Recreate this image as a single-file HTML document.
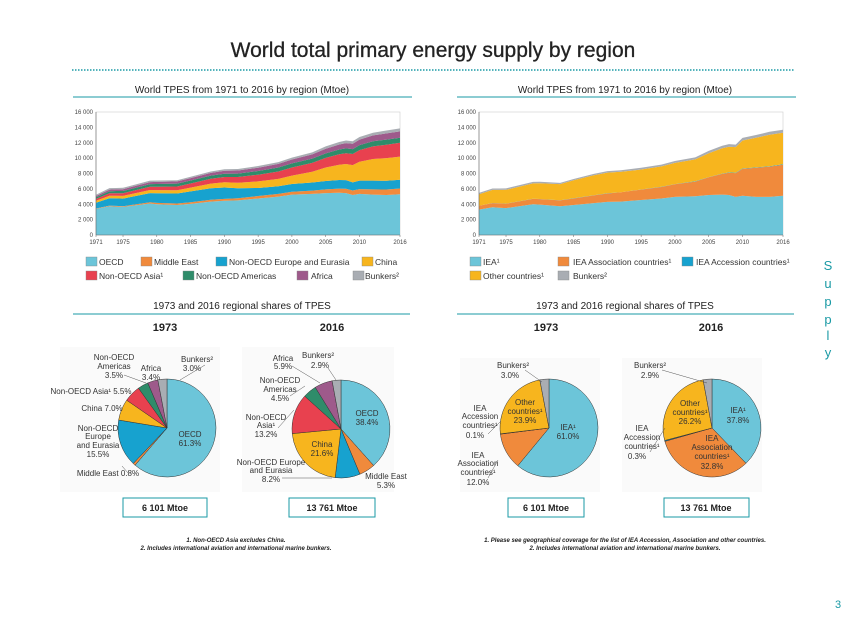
<!DOCTYPE html>
<html><head><meta charset="utf-8">
<style>
html,body{margin:0;padding:0;background:#fff;}
svg{display:block;font-family:"Liberation Sans",sans-serif;}
.n{font-family:"Liberation Sans Narrow","Liberation Sans",sans-serif;font-size:8px;fill:#333;}
.ax{font-family:"Liberation Sans Narrow","Liberation Sans",sans-serif;font-size:6px;fill:#444;}
.lg{font-family:"Liberation Sans Narrow","Liberation Sans",sans-serif;font-size:8.5px;fill:#333;}
.st{font-family:"Liberation Sans Narrow","Liberation Sans",sans-serif;font-size:10px;fill:#222;}
.fn{font-size:6px;font-style:italic;font-weight:bold;fill:#222;}
</style></head><body>
<svg id="s" width="866" height="630" viewBox="0 0 866 630" xmlns="http://www.w3.org/2000/svg">
<text x="433" y="57" text-anchor="middle" font-size="21" fill="#222" stroke="#222" stroke-width=".3">World total primary energy supply by region</text>
<line x1="72" y1="70" x2="795" y2="70" stroke="#1a9aa5" stroke-width="1.5" stroke-dasharray="1.5,1.5"/>

<text class="st" x="242" y="93" text-anchor="middle">World TPES from 1971 to 2016 by region (Mtoe)</text>
<line x1="73" y1="97" x2="412" y2="97" stroke="#1a9aa5" stroke-width="1"/>
<text class="st" x="625" y="93" text-anchor="middle">World TPES from 1971 to 2016 by region (Mtoe)</text>
<line x1="457" y1="97" x2="796" y2="97" stroke="#1a9aa5" stroke-width="1"/>

<g id="leftArea"></g>
<g id="rightArea"></g>

<g>
<rect x="86" y="257" width="11" height="9" fill="#6cc5d9" stroke="#888" stroke-width=".4"/><text class="lg" x="99" y="265">OECD</text>
<rect x="141" y="257" width="11" height="9" fill="#f08a3c" stroke="#888" stroke-width=".4"/><text class="lg" x="154" y="265">Middle East</text>
<rect x="216" y="257" width="11" height="9" fill="#17a2cf" stroke="#888" stroke-width=".4"/><text class="lg" x="229" y="265">Non-OECD Europe and Eurasia</text>
<rect x="362" y="257" width="11" height="9" fill="#f7b51e" stroke="#888" stroke-width=".4"/><text class="lg" x="375" y="265">China</text>
<rect x="86" y="271" width="11" height="9" fill="#e8414f" stroke="#888" stroke-width=".4"/><text class="lg" x="99" y="279">Non-OECD Asia¹</text>
<rect x="183" y="271" width="11" height="9" fill="#2f8c6a" stroke="#888" stroke-width=".4"/><text class="lg" x="196" y="279">Non-OECD Americas</text>
<rect x="297" y="271" width="11" height="9" fill="#9e5a8b" stroke="#888" stroke-width=".4"/><text class="lg" x="311" y="279">Africa</text>
<rect x="353" y="271" width="11" height="9" fill="#a9adb3" stroke="#888" stroke-width=".4"/><text class="lg" x="365" y="279">Bunkers²</text>
</g>
<g>
<rect x="470" y="257" width="11" height="9" fill="#6cc5d9" stroke="#888" stroke-width=".4"/><text class="lg" x="483" y="265">IEA¹</text>
<rect x="558" y="257" width="11" height="9" fill="#f08a3c" stroke="#888" stroke-width=".4"/><text class="lg" x="573" y="265">IEA Association countries¹</text>
<rect x="682" y="257" width="11" height="9" fill="#17a2cf" stroke="#888" stroke-width=".4"/><text class="lg" x="696" y="265">IEA Accession countries¹</text>
<rect x="470" y="271" width="11" height="9" fill="#f7b51e" stroke="#888" stroke-width=".4"/><text class="lg" x="483" y="279">Other countries¹</text>
<rect x="558" y="271" width="11" height="9" fill="#a9adb3" stroke="#888" stroke-width=".4"/><text class="lg" x="573" y="279">Bunkers²</text>
</g>

<text class="st" x="242" y="309" text-anchor="middle">1973 and 2016 regional shares of TPES</text>
<line x1="73" y1="314" x2="410" y2="314" stroke="#1a9aa5" stroke-width="1"/>
<text class="st" x="625" y="309" text-anchor="middle">1973 and 2016 regional shares of TPES</text>
<line x1="457" y1="314" x2="794" y2="314" stroke="#1a9aa5" stroke-width="1"/>
<text x="165" y="331" text-anchor="middle" font-size="11" font-weight="bold" fill="#222">1973</text>
<text x="332" y="331" text-anchor="middle" font-size="11" font-weight="bold" fill="#222">2016</text>
<text x="546" y="331" text-anchor="middle" font-size="11" font-weight="bold" fill="#222">1973</text>
<text x="711" y="331" text-anchor="middle" font-size="11" font-weight="bold" fill="#222">2016</text>

<rect x="60" y="347" width="160" height="145" fill="#fafafa"/>
<rect x="242" y="347" width="152" height="145" fill="#fafafa"/>
<rect x="460" y="358" width="140" height="134" fill="#fafafa"/>
<rect x="622" y="358" width="140" height="134" fill="#fafafa"/>

<g id="pies"></g>

<g class="n" text-anchor="middle">
<text class="n" x="114" y="360">Non-OECD</text><text class="n" x="114" y="369">Americas</text><text class="n" x="114" y="378">3.5%</text>
<text class="n" x="151" y="371">Africa</text><text class="n" x="151" y="380">3.4%</text>
<text class="n" x="197" y="362">Bunkers²</text><text class="n" x="192" y="371">3.0%</text>
<text class="n" x="91" y="394">Non-OECD Asia¹ 5.5%</text>
<text class="n" x="102" y="411">China 7.0%</text>
<text class="n" x="98" y="431">Non-OECD</text><text class="n" x="98" y="439">Europe</text><text class="n" x="98" y="448">and Eurasia</text><text class="n" x="98" y="457">15.5%</text>
<text class="n" x="108" y="476">Middle East 0.8%</text>
<text class="n" x="190" y="437">OECD</text><text class="n" x="190" y="446">61.3%</text>
<text class="n" x="283" y="361">Africa</text><text class="n" x="283" y="369">5.9%</text>
<text class="n" x="318" y="358">Bunkers²</text><text class="n" x="320" y="368">2.9%</text>
<text class="n" x="280" y="383">Non-OECD</text><text class="n" x="280" y="392">Americas</text><text class="n" x="280" y="401">4.5%</text>
<text class="n" x="266" y="420">Non-OECD</text><text class="n" x="266" y="428">Asia¹</text><text class="n" x="266" y="437">13.2%</text>
<text class="n" x="322" y="447">China</text><text class="n" x="322" y="456">21.6%</text>
<text class="n" x="271" y="465">Non-OECD Europe</text><text class="n" x="271" y="473">and Eurasia</text><text class="n" x="271" y="482">8.2%</text>
<text class="n" x="367" y="416">OECD</text><text class="n" x="367" y="425">38.4%</text>
<text class="n" x="386" y="479">Middle East</text><text class="n" x="386" y="488">5.3%</text>
<text class="n" x="513" y="368">Bunkers²</text><text class="n" x="510" y="378">3.0%</text>
<text class="n" x="525" y="405">Other</text><text class="n" x="525" y="414">countries¹</text><text class="n" x="525" y="423">23.9%</text>
<text class="n" x="480" y="411">IEA</text><text class="n" x="480" y="419">Accession</text><text class="n" x="480" y="428">countries¹</text><text class="n" x="475" y="438">0.1%</text>
<text class="n" x="568" y="430">IEA¹</text><text class="n" x="568" y="439">61.0%</text>
<text class="n" x="478" y="458">IEA</text><text class="n" x="478" y="466">Association</text><text class="n" x="478" y="475">countries¹</text><text class="n" x="478" y="485">12.0%</text>
<text class="n" x="650" y="368">Bunkers²</text><text class="n" x="650" y="378">2.9%</text>
<text class="n" x="690" y="406">Other</text><text class="n" x="690" y="415">countries¹</text><text class="n" x="690" y="424">26.2%</text>
<text class="n" x="738" y="413">IEA¹</text><text class="n" x="738" y="423">37.8%</text>
<text class="n" x="642" y="431">IEA</text><text class="n" x="642" y="440">Accession</text><text class="n" x="642" y="449">countries¹</text><text class="n" x="637" y="459">0.3%</text>
<text class="n" x="712" y="441">IEA</text><text class="n" x="712" y="450">Association</text><text class="n" x="712" y="459">countries¹</text><text class="n" x="712" y="469">32.8%</text>
</g>
<g fill="none" stroke="#555" stroke-width=".5">
<polyline points="124,375 146,383"/><polyline points="205,365 180,380"/>
<polyline points="292,366 320,383"/><polyline points="328,368 336,380"/><polyline points="290,396 305,386"/>
<polyline points="278,428 294,410"/><polyline points="282,478 332,478"/><polyline points="128,473 122,466"/>
<polyline points="525,370 542,382"/><polyline points="488,434 501,421"/><polyline points="488,478 498,460"/>
<polyline points="662,370 707,383"/><polyline points="650,452 665,428"/>
</g>

<g>
<rect x="123" y="498" width="84" height="19" fill="#fff" stroke="#1a9aa5" stroke-width="1"/><text x="165" y="511" text-anchor="middle" font-size="9" font-weight="bold" fill="#222">6 101 Mtoe</text>
<rect x="289" y="498" width="86" height="19" fill="#fff" stroke="#1a9aa5" stroke-width="1"/><text x="332" y="511" text-anchor="middle" font-size="9" font-weight="bold" fill="#222">13 761 Mtoe</text>
<rect x="508" y="498" width="76" height="19" fill="#fff" stroke="#1a9aa5" stroke-width="1"/><text x="546" y="511" text-anchor="middle" font-size="9" font-weight="bold" fill="#222">6 101 Mtoe</text>
<rect x="664" y="498" width="85" height="19" fill="#fff" stroke="#1a9aa5" stroke-width="1"/><text x="706" y="511" text-anchor="middle" font-size="9" font-weight="bold" fill="#222">13 761 Mtoe</text>
</g>

<g text-anchor="middle">
<text class="fn" x="236" y="542">1. Non-OECD Asia excludes China.</text>
<text class="fn" x="236" y="550">2. Includes international aviation and international marine bunkers.</text>
<text class="fn" x="625" y="542">1. Please see geographical coverage for the list of IEA Accession, Association and other countries.</text>
<text class="fn" x="625" y="550">2. Includes international aviation and international marine bunkers.</text>
</g>

<g font-size="13" fill="#1a9aa5" text-anchor="middle">
<text x="828" y="270">S</text><text x="828" y="288">u</text><text x="828" y="306">p</text><text x="828" y="324">p</text><text x="828" y="340">l</text><text x="828" y="357">y</text>
</g>
<text x="838" y="608" font-size="11" fill="#1a9aa5" text-anchor="middle">3</text>
</svg>
<script>
const years=[1971,1973,1974,1975,1979,1980,1983,1985,1988,1990,1992,1995,1998,2000,2003,2005,2007,2008,2009,2010,2012,2014,2016];
const oecd=[3400,3750,3700,3650,4100,4000,3900,4050,4350,4450,4500,4750,5000,5250,5350,5450,5500,5450,5200,5350,5250,5200,5300];
const middleEast=[50,70,80,90,150,170,200,220,240,250,270,320,350,380,430,480,530,560,590,620,680,720,750];
const nonOecdEurope=[750,950,980,1000,1200,1250,1300,1400,1500,1480,1300,1050,1000,1000,1050,1100,1120,1130,1050,1100,1150,1130,1150];
const china=[250,330,340,350,400,420,430,500,600,670,720,850,950,1100,1400,1750,2000,2100,2250,2450,2800,2950,3000];
const nonOecdAsia=[250,330,340,350,420,440,480,530,620,700,760,880,960,1050,1150,1250,1350,1400,1450,1520,1650,1750,1800];
const nonOecdAmericas=[200,270,280,290,350,360,370,390,420,430,440,480,520,540,560,590,620,630,630,650,660,660,650];
const africa=[170,210,220,230,260,270,290,310,350,380,400,430,470,500,550,600,650,680,700,720,760,800,820];
const bunkers=[170,190,180,175,190,185,160,165,180,190,200,215,230,250,260,300,330,340,320,340,360,380,400];
const iea=[3300,3600,3550,3500,4000,3950,3750,3900,4150,4300,4350,4550,4750,4950,5050,5200,5250,5200,4950,5100,4950,4950,5100];
const ieaAssociation=[500,550,560,570,700,720,750,850,1000,1100,1200,1350,1500,1650,1900,2300,2700,2900,3100,3500,3800,3950,4050];
const ieaAccession=[10,12,12,13,15,15,15,18,20,20,20,22,25,25,30,35,40,40,40,45,45,45,45];
const otherCountries=[1500,1700,1750,1800,2000,2050,2100,2350,2600,2700,2650,2600,2650,2750,2850,3100,3300,3350,3350,3650,3850,4100,4100];
const bunkersR=[170,190,180,175,190,185,160,165,180,190,200,215,230,250,260,300,330,340,320,340,360,380,400];
const yTicks=[0,2000,4000,6000,8000,10000,12000,14000,16000];
const yTickLabels=["0","2 000","4 000","6 000","8 000","10 000","12 000","14 000","16 000"];
const xTicks=[1971,1975,1980,1985,1990,1995,2000,2005,2010,2016];
const pieRegions=["OECD","Middle East","Non-OECD Europe and Eurasia","China","Non-OECD Asia","Non-OECD Americas","Africa","Bunkers"];
const share1973=[61.3,0.8,15.5,7.0,5.5,3.5,3.4,3.0];
const share2016=[38.4,5.3,8.2,21.6,13.2,4.5,5.9,2.9];
const ieaGroups=["IEA","IEA Association","IEA Accession","Other countries","Bunkers"];
const ieaShare1973=[61.0,12.0,0.1,23.9,3.0];
const ieaShare2016=[37.8,32.8,0.3,26.2,2.9];

const NS="http://www.w3.org/2000/svg";
function el(t,a,p){const e=document.createElementNS(NS,t);for(const k in a)e.setAttribute(k,a[k]);p.appendChild(e);return e;}
const regColors=["#6cc5d9","#f08a3c","#17a2cf","#f7b51e","#e8414f","#2f8c6a","#9e5a8b","#a9adb3"];
const ieaColors=["#6cc5d9","#f08a3c","#17a2cf","#f7b51e","#a9adb3"];

function areaChart(g,x0,x1,series,names,colors){
  const y0=235,y1=112;
  const X=v=>x0+(v-1971)/(2016-1971)*(x1-x0);
  const Y=v=>y0-v/16000*(y0-y1);
  el('rect',{x:x0,y:y1,width:x1-x0,height:y0-y1,fill:'#fff',stroke:'#ccc','stroke-width':.6},g);
  const cum=years.map(()=>0);
  series.forEach((s,i)=>{
    const lo=cum.slice(); const hi=cum.map((c,j)=>c+s[j]);
    let d='M'+years.map((yr,j)=>X(yr).toFixed(1)+','+Y(hi[j]).toFixed(1)).join('L');
    for(let j=years.length-1;j>=0;j--)d+='L'+X(years[j]).toFixed(1)+','+Y(lo[j]).toFixed(1);
    const p=el('path',{d:d+'Z',fill:colors[i]},g);
    
    
    hi.forEach((v,j)=>cum[j]=v);
  });
  el('line',{x1:x0,y1:y0,x2:x1,y2:y0,stroke:'#666','stroke-width':.6},g);
  el('line',{x1:x0,y1:y1,x2:x0,y2:y0,stroke:'#666','stroke-width':.6},g);
  yTicks.forEach((t,i)=>{
    const tx=el('text',{x:x0-3,y:Y(t)+2,'text-anchor':'end',class:'ax'},g);tx.textContent=yTickLabels[i];
    
    
  });
  xTicks.forEach(t=>{
    el('line',{x1:X(t),y1:y0,x2:X(t),y2:y0+2,stroke:'#666','stroke-width':.5},g);
    const tx=el('text',{x:X(t),y:y0+9,'text-anchor':'middle',class:'ax'},g);tx.textContent=t;
    
    
  });
}
areaChart(document.getElementById('leftArea'),96,400,[oecd,middleEast,nonOecdEurope,china,nonOecdAsia,nonOecdAmericas,africa,bunkers],["oecd","middle-east","non-oecd-europe","china","non-oecd-asia","non-oecd-americas","africa","bunkers"],regColors);
areaChart(document.getElementById('rightArea'),479,783,[iea,ieaAssociation,ieaAccession,otherCountries,bunkersR],["iea","iea-association","iea-accession","other-countries","bunkers"],ieaColors);

function pie(cx,cy,r,vals,colors,names,tag){
  const g=el('g',{},document.getElementById('pies'));
  
  
  const tot=vals.reduce((a,b)=>a+b,0);let a=-Math.PI/2;
  vals.forEach((v,i)=>{
    const b=a+v/tot*2*Math.PI;
    const x1=cx+r*Math.cos(a),y1=cy+r*Math.sin(a),x2=cx+r*Math.cos(b),y2=cy+r*Math.sin(b);
    const p=el('path',{d:`M${cx},${cy}L${x1.toFixed(2)},${y1.toFixed(2)}A${r},${r} 0 ${b-a>Math.PI?1:0} 1 ${x2.toFixed(2)},${y2.toFixed(2)}Z`,fill:colors[i],stroke:'#333','stroke-width':.5},g);
    
    
    a=b;
  });
}
pie(167,428,49,share1973,regColors,pieRegions,'regions-1973');
pie(341,429,49,share2016,regColors,pieRegions,'regions-2016');
pie(549,428,49,ieaShare1973,ieaColors,ieaGroups,'iea-1973');
pie(712,428,49,ieaShare2016,ieaColors,ieaGroups,'iea-2016');
</script>
</body></html>
